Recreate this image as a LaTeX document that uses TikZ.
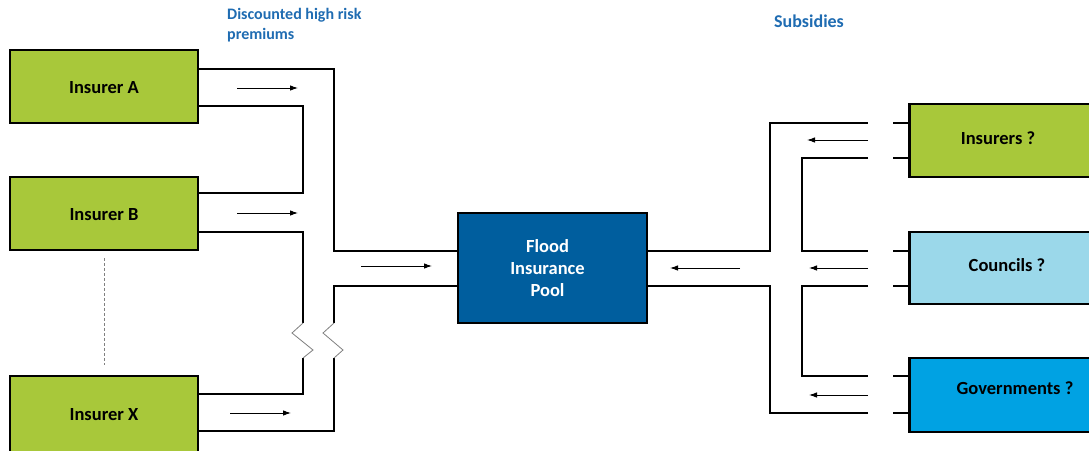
\documentclass[tikz,border=0pt]{standalone}
\usepackage{fontspec}
\setmainfont{Carlito}
\usetikzlibrary{arrows.meta,positioning}

\definecolor{insgreen}{RGB}{168,200,58}
\definecolor{councilblue}{RGB}{155,216,234}
\definecolor{govblue}{RGB}{0,162,227}
\definecolor{poolblue}{RGB}{0,94,158}
\definecolor{labelblue}{RGB}{31,108,178}

\tikzset{
	party/.style={draw=black, line width=2.8pt, minimum width=188pt, minimum height=73pt, inner sep=0pt},
	partytext/.style={font=\bfseries\fontsize{18.5}{22}\selectfont, inner sep=0pt},
	pipe/.style={line width=2.8pt},
	breakline/.style={line width=0.8pt, gray},
	flow/.style={-{Latex[length=8pt,width=5.5pt]}, line width=0.9pt},
	heading/.style={font=\bfseries\fontsize{16}{20}\selectfont, text=labelblue, align=left, inner sep=0pt}
}

\begin{document}
\begin{tikzpicture}[x=1pt, y=-1pt]

			\clip (0,0) rectangle (1089,450);
			\fill[white] (0,0) rectangle (1089,450);

			% Insurers paying into the pool
			\foreach \name/\txt/\y/\h in {
					insA/Insurer A/86.5/73,
					insB/Insurer B/213.5/73,
					insX/Insurer X/414/76
				} {
					\node[party, fill=insgreen, minimum height=\h pt] (\name) at (104,\y) {};
					\node[partytext] (\name-txt) at ([yshift=-1pt]\name) {\txt};
				}
			\draw[gray, line width=0.8pt, dash pattern=on 3pt off 2pt] (insB.south |- 0,258) -- (insX.north |- 0,365);

			% The pool
			\node[draw=black, line width=2.8pt, fill=poolblue, minimum width=189pt, minimum height=110pt] (pool) at (552.5,268) {};
			\node[text=white, align=center, inner sep=0pt, font=\bfseries\fontsize{18.5}{22}\selectfont] (pool-txt)
				at ([xshift=-5pt]pool) {Flood\\Insurance\\Pool};

			% Possible sources of subsidies
			\foreach \name/\txt/\col/\y/\h/\dx/\dy in {
					subIns/Insurers ?/insgreen/140.5/73/90/2,
					subCou/Councils ?/councilblue/268/72/99/3,
					subGov/Governments ?/govblue/395/74/107/7
				} {
					\node[party, fill=\col, minimum width=220pt, minimum height=\h pt, anchor=west] (\name) at (908,\y) {};
					\node[partytext] (\name-txt) at ([xshift=\dx pt, yshift=\dy pt]\name.west) {\txt};
				}

			% Left pipes
			\draw[pipe] (insA.east |- 0,69) -- (334,69) -- (334,251) -- (pool.west |- 0,251);
			\draw[pipe] (insA.east |- 0,106) -- (303,106) -- (303,193) -- (insB.east |- 0,193);
			\draw[pipe] (insB.east |- 0,232) -- (303,232) -- (303,323);
			\draw[pipe] (303,358) -- (303,394) -- (insX.east |- 0,394);
			\draw[pipe] (insX.east |- 0,431) -- (334,431) -- (334,358);
			\draw[pipe] (334,323) -- (334,286) -- (pool.west |- 0,286);
			\draw[breakline] (303,323) -- (292,333) -- (313,350) -- (303,358);
			\draw[breakline] (334,323) -- (323,333) -- (343,350) -- (334,358);

			% Right pipes
			\draw[pipe] (pool.east |- 0,251) -- (770,251) -- (770,123) -- (868,123);
			\draw[pipe] (868,158) -- (802,158) -- (802,251) -- (868,251);
			\draw[pipe] (868,286) -- (802,286) -- (802,376) -- (868,376);
			\draw[pipe] (868,413) -- (770,413) -- (770,286) -- (pool.east |- 0,286);
			\foreach \y in {123,158,251,286,376,413} {
					\draw[pipe] (893,\y) -- (subIns.west |- 0,\y);
				}

			% Flow arrows
			\foreach \xa/\xb/\y in {
					237/298/88,
					237/298/213,
					230/291/413,
					361/432/266,
					868/807/140,
					868/809/268,
					868/809/395,
					740/670/268
				} {
					\draw[flow] (\xa,\y) -- (\xb,\y);
				}

			% Headings
			\node[heading, anchor=north west] (premiums) at (227,8) {Discounted high risk\\premiums};
			\node[heading, anchor=west, font=\bfseries\fontsize{18}{22}\selectfont] (subsidies) at (774,21) {Subsidies};

		\end{tikzpicture}
\end{document}
